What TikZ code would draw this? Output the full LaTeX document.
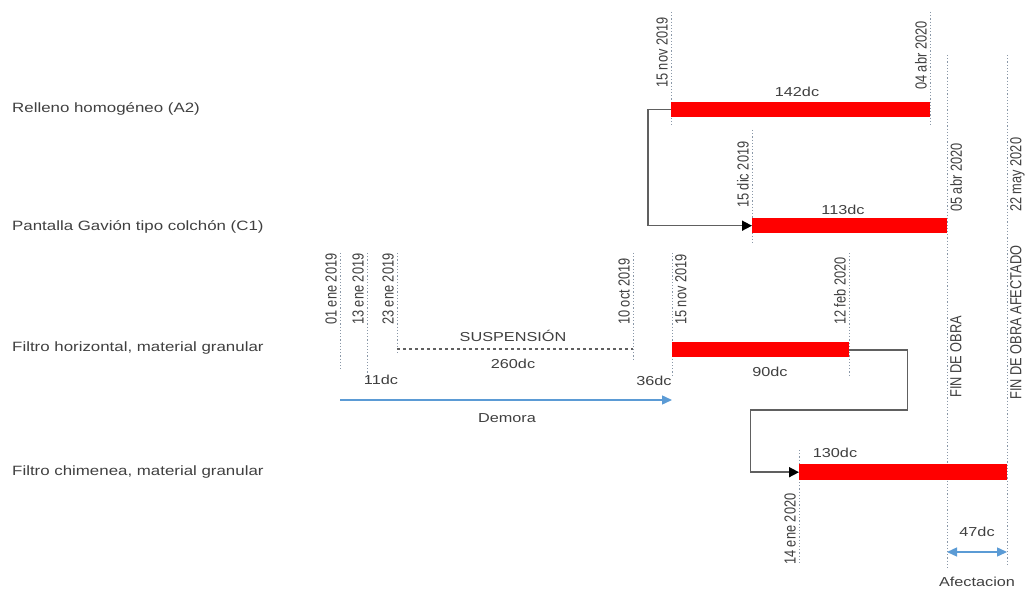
\documentclass[tikz,border=0pt]{standalone}
\usepackage{fontspec}
\setmainfont{Liberation Sans}
\newfontfamily\hfont[FakeStretch=1.25]{Liberation Sans}
\newfontfamily\vfont[FakeStretch=0.8]{Liberation Sans}
\usetikzlibrary{arrows.meta}
\definecolor{txt}{HTML}{404040}
\definecolor{barred}{HTML}{FF0000}
\definecolor{dotc}{HTML}{8A98A8}
\definecolor{conn}{HTML}{606060}
\definecolor{blu}{HTML}{5B9BD5}
\begin{document}
\begin{tikzpicture}[x=1pt,y=-1pt,
  lbl/.style={font=\hfont\fontsize{13.5}{15}\selectfont, text=txt, anchor=west, inner sep=0pt},
  dclbl/.style={font=\hfont\fontsize{13}{15}\selectfont, text=txt, inner sep=0pt},
  datel/.style={font=\vfont\fontsize{16}{18}\selectfont, text=txt, rotate=90, inner sep=0pt, anchor=south west},
  dater/.style={font=\vfont\fontsize{16}{18}\selectfont, text=txt, rotate=90, inner sep=0pt, anchor=north west},
  guide/.style={draw=dotc, line width=0.9pt, dash pattern=on 1.2pt off 2pt},
  bar/.style={fill=barred, draw=none, inner sep=0pt, anchor=north west},
  link/.style={draw=conn, line width=1.6pt, -{Triangle[length=10pt,width=10pt,color=black]}},
  bluearr/.style={draw=blu, line width=1.4pt},
]
\useasboundingbox[fill=white] (0,0) rectangle (1035,593);

% row labels
\node[lbl] (r1) at (12,109) {Relleno homogéneo (A2)};
\node[lbl] (r2) at (12,227) {Pantalla Gavión tipo colchón (C1)};
\node[lbl] (r3) at (12,348) {Filtro horizontal, material granular};
\node[lbl] (r4) at (12,472) {Filtro chimenea, material granular};

% guide lines
\draw[guide] (671,12) -- (671,127);
\draw[guide] (930,12) -- (930,127);
\draw[guide] (752,130) -- (752,245);
\draw[guide] (947,55) -- (947,570);
\draw[guide] (1007,55) -- (1007,565);
\draw[guide] (340,253) -- (340,370);
\draw[guide] (367,253) -- (367,378);
\draw[guide] (397,253) -- (397,355);
\draw[guide] (633,253) -- (633,360);
\draw[guide] (672,253) -- (672,375);
\draw[guide] (849,253) -- (849,375);
\draw[guide] (799,450) -- (799,565);

% bars
\node[bar, minimum width=259pt, minimum height=15pt] (b1) at (671,102) {};
\node[bar, minimum width=195pt, minimum height=15pt] (b2) at (752,218) {};
\node[bar, minimum width=177pt, minimum height=15pt] (b3) at (672,342) {};
\node[bar, minimum width=208pt, minimum height=16pt] (b4) at (799,464) {};

% bar labels
\node[dclbl] (l1) at (797,92) {142dc};
\node[dclbl] (l2) at (843,210) {113dc};
\node[dclbl] (l3) at (770,372) {90dc};
\node[dclbl] (l4) at (835,453) {130dc};

% dates
\node[datel] (t1) at (668,88) {15 nov 2019};
\node[datel] (t2) at (927,90) {04 abr 2020};
\node[datel] (t3) at (749,208) {15 dic 2019};
\node[dater] (t4) at (950,212) {05 abr 2020};
\node[dater] (t5) at (1010,212) {22 may 2020};
\node[datel] (t6) at (337,325) {01 ene 2019};
\node[datel] (t7) at (364,325) {13 ene 2019};
\node[datel] (t8) at (394,325) {23 ene 2019};
\node[datel] (t9) at (630,325) {10 oct 2019};
\node[dater] (t10) at (675,325) {15 nov 2019};
\node[datel] (t11) at (846,325) {12 feb 2020};
\node[datel] (t12) at (796,565) {14 ene 2020};
\node[dater] (f1) at (950,398) {FIN DE OBRA};
\node[dater] (f2) at (1010,400) {FIN DE OBRA AFECTADO};

% suspension
\coordinate (s0) at (397,349);
\coordinate (s1) at (633,349);
\draw[draw=conn, line width=1.3pt, dash pattern=on 3pt off 3pt] (s0) -- (s1);
\node[dclbl] (sus) at (513,336) {SUSPENSIÓN};
\node[dclbl] (d260) at (513,364) {260dc};
\node[dclbl] (d11) at (381,380) {11dc};
\node[dclbl] (d36) at (654,381) {36dc};

% demora
\coordinate (m0) at (340,400);
\coordinate (m1) at (672,400);
\draw[bluearr, -{Triangle[length=10pt,width=9pt]}] (m0) -- (m1);
\node[dclbl] (dem) at (507,418) {Demora};

% afectacion
\coordinate (a0) at (947,552);
\coordinate (a1) at (1007,552);
\draw[bluearr, {Triangle[length=10pt,width=9pt]}-{Triangle[length=10pt,width=9pt]}] (a0) -- (a1);
\node[dclbl] (d47) at (977,532) {47dc};
\node[dclbl] (afe) at (977,582) {Afectacion};

% connectors
\draw[link] (b1.west) -- ++(-23,0) |- (b2.west);
\draw[link] (b3.east) -- ++(58,0) -- ++(0,60.5) -- ++(-157,0) |- (b4.west);
\end{tikzpicture}
\end{document}
